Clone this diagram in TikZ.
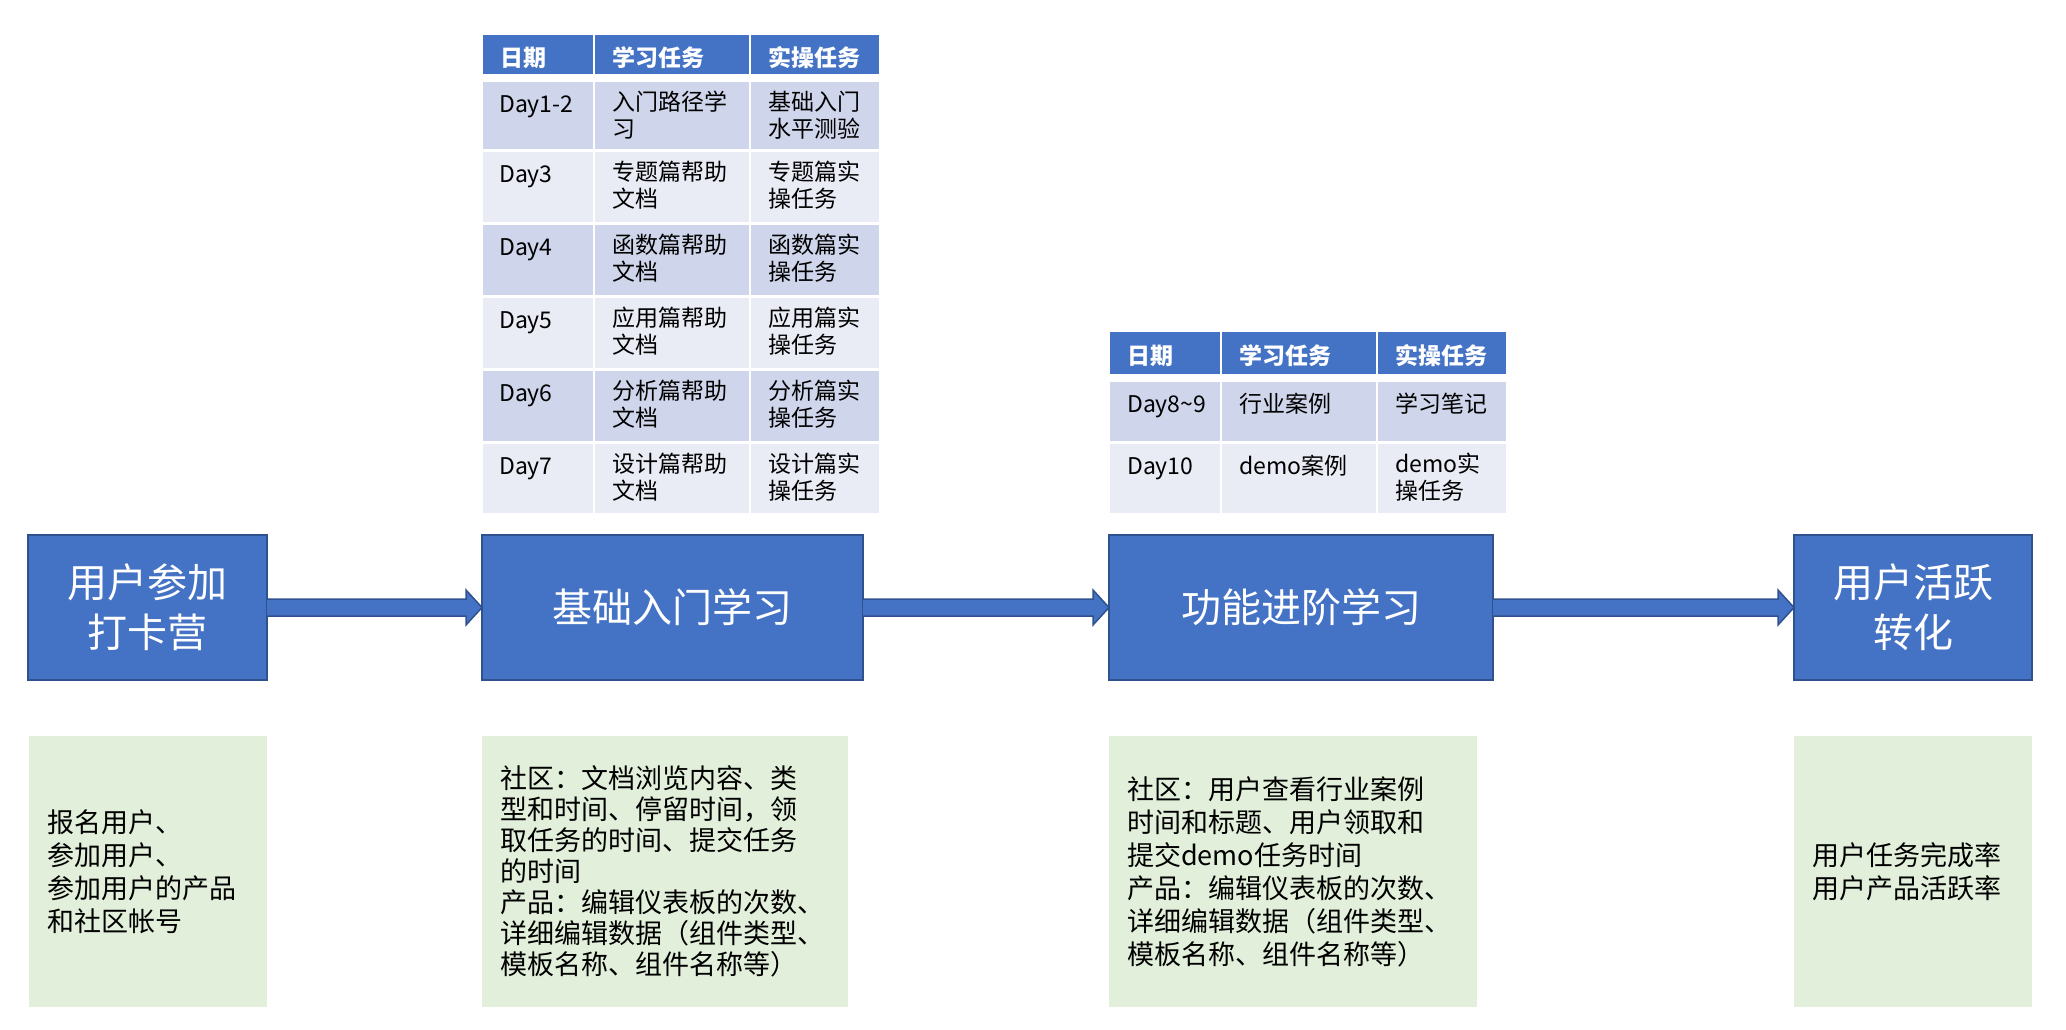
\documentclass[tikz,border=0pt]{standalone}
\usepackage{fontspec}
\setmainfont{Noto Sans CJK SC}
\usetikzlibrary{calc}
\definecolor{boxblue}{HTML}{4472C4}
\definecolor{boxedge}{HTML}{2F528F}
\definecolor{rowdark}{HTML}{CFD5EA}
\definecolor{rowlight}{HTML}{E9EBF5}
\definecolor{notegreen}{HTML}{E2EFDA}
\begin{document}
\begin{tikzpicture}[x=1pt,y=-1pt,
  mainbox/.style={draw=boxedge, line width=2pt, fill=boxblue, text=white, align=center,
    inner sep=0pt, outer sep=0pt, anchor=north west, font=\fontsize{40}{50}\selectfont},
  notebox/.style={fill=notegreen, align=left, inner xsep=18pt, inner ysep=0pt, outer sep=0pt,
    anchor=north west, minimum height=271pt},
  notetext/.style={font=\fontsize{27}{33}\selectfont},
  blockarrow/.style={fill=boxblue, draw=boxedge, line width=1.5pt, line join=miter},
  celltext/.style={anchor=north west, align=left, inner sep=0pt, text=black,
    font=\fontsize{23}{27}\selectfont, execute at begin node={\rule{0pt}{21pt}}},
  headtext/.style={celltext, text=white, font=\fontsize{23}{27}\selectfont\bfseries},
]
\useasboundingbox (0,0) rectangle (2066,1030);

% ---- main boxes ----
\node[mainbox, minimum width=239pt, minimum height=145pt] (b1) at (28,535) {用户参加\\打卡营};
\node[mainbox, minimum width=381pt, minimum height=145pt] (b2) at (482,535) {基础入门学习};
\node[mainbox, minimum width=384pt, minimum height=145pt] (b3) at (1109,535) {功能进阶学习};
\node[mainbox, minimum width=238pt, minimum height=145pt] (b4) at (1794,535) {用户活跃\\转化};

% ---- block arrows ----
\foreach \s/\t in {b1/b2, b2/b3, b3/b4}{
  \filldraw[blockarrow] ($(\s.east)+(0,-8.5)$) -- ($(\t.west)+(-16,-8.5)$) -- ($(\t.west)+(-16,-17.5)$)
    -- (\t.west) -- ($(\t.west)+(-16,17.5)$) -- ($(\t.west)+(-16,8.5)$) -- ($(\s.east)+(0,8.5)$);
}

% ---- note boxes ----
\node[notebox, notetext, minimum width=238pt, text width=202pt] (n1) at (29,736)
  {报名用户、\\参加用户、\\参加用户的产品\\和社区帐号};
\node[notebox, minimum width=366pt, text width=330pt, font=\fontsize{27}{31}\selectfont] (n2) at (482,736)
  {社区：文档浏览内容、类\\型和时间、停留时间，领\\取任务的时间、提交任务\\的时间\\产品：编辑仪表板的次数、\\详细编辑数据（组件类型、\\模板名称、组件名称等）};
\node[notebox, notetext, minimum width=368pt, text width=332pt] (n3) at (1109,736)
  {社区：用户查看行业案例\\时间和标题、用户领取和\\提交demo任务时间\\产品：编辑仪表板的次数、\\详细编辑数据（组件类型、\\模板名称、组件名称等）};
\node[notebox, notetext, minimum width=238pt, text width=202pt] (n4) at (1794,736)
  {用户任务完成率\\用户产品活跃率};

% ---- table 1 ----
\fill[boxblue] (483,35) rectangle (593,74);
\fill[boxblue] (595,35) rectangle (749,74);
\fill[boxblue] (751,35) rectangle (879,74);
\node[headtext] (ta-h1) at (500,45) {日期};
\node[headtext] (ta-h2) at (612,45) {学习任务};
\node[headtext] (ta-h3) at (768,45) {实操任务};
\foreach \ty/\by/\rc/\ca/\cb/\cc [count=\i] in {
  82/149/rowdark/{Day1-2}/{入门路径学\\习}/{基础入门\\水平测验},
  152/222/rowlight/{Day3}/{专题篇帮助\\文档}/{专题篇实\\操任务},
  225/295/rowdark/{Day4}/{函数篇帮助\\文档}/{函数篇实\\操任务},
  298/368/rowlight/{Day5}/{应用篇帮助\\文档}/{应用篇实\\操任务},
  371/441/rowdark/{Day6}/{分析篇帮助\\文档}/{分析篇实\\操任务},
  444/513/rowlight/{Day7}/{设计篇帮助\\文档}/{设计篇实\\操任务}}{
  \fill[\rc] (483,\ty) rectangle (593,\by);
  \fill[\rc] (595,\ty) rectangle (749,\by);
  \fill[\rc] (751,\ty) rectangle (879,\by);
  \node[celltext] (ta-\i-1) at (499,\ty+9) {\ca};
  \node[celltext] (ta-\i-2) at (612,\ty+9) {\cb};
  \node[celltext] (ta-\i-3) at (768,\ty+9) {\cc};
}

% ---- table 2 ----
\fill[boxblue] (1110,332) rectangle (1220,374);
\fill[boxblue] (1222,332) rectangle (1376,374);
\fill[boxblue] (1378,332) rectangle (1506,374);
\node[headtext] (tb-h1) at (1127,343) {日期};
\node[headtext] (tb-h2) at (1239,343) {学习任务};
\node[headtext] (tb-h3) at (1395,343) {实操任务};
\foreach \ty/\by/\rc/\ca/\cb/\cc [count=\i] in {
  382/441/rowdark/{Day8\textasciitilde 9}/{行业案例}/{学习笔记},
  444/513/rowlight/{Day10}/{demo案例}/{demo实\\操任务}}{
  \fill[\rc] (1110,\ty) rectangle (1220,\by);
  \fill[\rc] (1222,\ty) rectangle (1376,\by);
  \fill[\rc] (1378,\ty) rectangle (1506,\by);
  \node[celltext] (tb-\i-1) at (1127,\ty+9) {\ca};
  \node[celltext] (tb-\i-2) at (1239,\ty+9) {\cb};
  \node[celltext] (tb-\i-3) at (1395,\ty+9) {\cc};
}
\end{tikzpicture}
\end{document}
